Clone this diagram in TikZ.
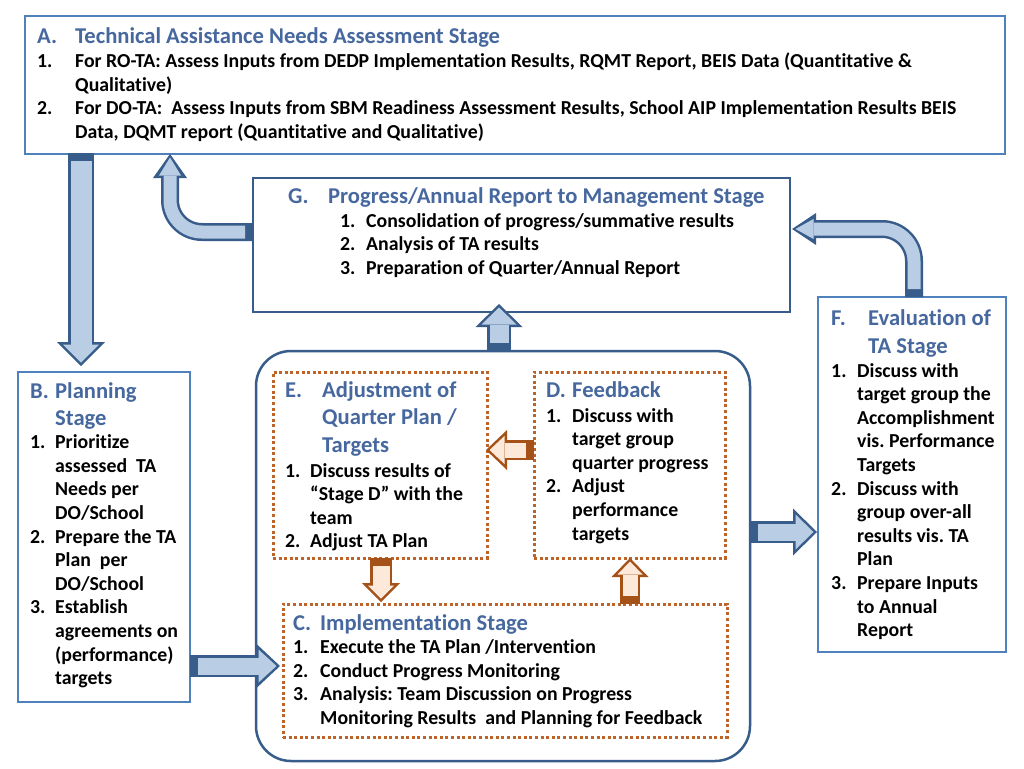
\documentclass[tikz,border=0pt]{standalone}
\usepackage{fontspec}
\setmainfont{Carlito}[Ligatures=NoCommon]
\usepackage{tikz}
\usetikzlibrary{arrows.meta}

\definecolor{ttlblue}{RGB}{70,104,158}
\definecolor{frameblue}{RGB}{79,129,189}
\definecolor{darkblue}{RGB}{56,93,138}
\definecolor{arrfill}{RGB}{185,205,229}
\definecolor{dotbrown}{RGB}{190,100,40}
\definecolor{brownline}{RGB}{165,82,25}
\definecolor{brownfill}{RGB}{253,233,217}

\frenchspacing
\newcommand{\ttl}[1]{\textcolor{ttlblue}{\fontsize{22.6}{23.6}\selectfont #1}}
\newcommand{\blockarrow}[6]{%
  \pgfmathsetmacro\bainner{#3-5}%
  \pgfmathsetmacro\baheadw{#4-12}%
  \pgfmathsetmacro\baheadl{#5-6}%
  \draw[color=#1, line width=#3pt, -{Triangle[width=#4pt, length=#5pt, line width=0pt]}] #6;
  \draw[color=#2, line width=\bainner pt, shorten <=8pt, shorten >=3.5pt,
        -{Triangle[width=\baheadw pt, length=\baheadl pt, line width=0pt]}] #6;}

\begin{document}
\begin{tikzpicture}[x=1pt, y=-1pt,
    stagebox/.style = {draw, line width=2.5pt, fill=white, inner sep=0pt, outer sep=0pt, anchor=north west},
    dotbox/.style = {stagebox, draw=dotbrown, line width=3pt, dash pattern={on 3pt off 2.6pt}},
    txt/.style = {anchor=base west, inner sep=0pt, font=\fontsize{19.8}{23.6}\selectfont\bfseries}]
    \useasboundingbox[fill=white] (0,0) rectangle (1024,768);

    \node[stagebox, draw=frameblue, minimum width=980pt, minimum height=138pt] (A) at (25,16) {};
    \node[stagebox, draw=darkblue, minimum width=537pt, minimum height=134pt] (G) at (253,178) {};
    \node[stagebox, draw=frameblue, minimum width=172pt, minimum height=330pt] (B) at (18,372) {};
    \node[stagebox, draw=frameblue, minimum width=188pt, minimum height=355pt] (F) at (818,297) {};
    \node[stagebox, draw=darkblue, rounded corners=35pt, minimum width=494pt, minimum height=410pt] (box) at (256,351) {};
    \node[dotbox, minimum width=214pt, minimum height=186pt] (E) at (273,372) {};
    \node[dotbox, minimum width=191pt, minimum height=186pt] (D) at (534,372) {};
    \node[dotbox, minimum width=444pt, minimum height=133pt] (C) at (283,604) {};

    \node[txt] (Atext) at (37,44) {\begin{tabular}[t]{@{}p{38pt}@{}l@{}}
        \ttl{A.} & \ttl{Technical Assistance Needs Assessment Stage}\\
        1. & For RO-TA: Assess Inputs from DEDP Implementation Results, RQMT Report, BEIS Data (Quantitative \&\\
           & Qualitative)\\
        2. & For DO-TA:~ Assess Inputs from SBM Readiness Assessment Results, School AIP Implementation Results BEIS\\
           & Data, DQMT report (Quantitative and Qualitative)
        \end{tabular}};
    \node[txt] (Gtitle) at (288,203) {\begin{tabular}[t]{@{}p{40pt}@{}l@{}}
        \ttl{G.} & \ttl{Progress/Annual Report to Management Stage}
        \end{tabular}};
    \node[txt] (Gtext) at (340,227) {\begin{tabular}[t]{@{}p{26pt}@{}l@{}}
        1. & Consolidation of progress/summative results\\
        2. & Analysis of TA results\\
        3. & Preparation of Quarter/Annual Report
        \end{tabular}};
    \node[txt] (Btext) at (30,398) {\begin{tabular}[t]{@{}p{25pt}@{}l@{}}
        \ttl{B.} & \ttl{Planning}\\[3.4pt]
           & \ttl{Stage}\\
        1. & Prioritize\\
           & assessed~ TA\\
           & Needs per\\
           & DO/School\\
        2. & Prepare the TA\\
           & Plan~ per\\
           & DO/School\\
        3. & Establish\\
           & agreements on\\
           & (performance)\\
           & targets
        \end{tabular}};
    \node[txt] (Ftitle) at (831,325) {\begin{tabular}[t]{@{}p{37pt}@{}l@{}}
        \ttl{F.} & \ttl{Evaluation of}\\[4.4pt]
           & \ttl{TA Stage}
        \end{tabular}};
    \node[txt] (Ftext) at (831,377) {\begin{tabular}[t]{@{}p{26pt}@{}l@{}}
        1. & Discuss with\\
           & target group the\\
           & Accomplishment\\
           & vis. Performance\\
           & Targets\\
        2. & Discuss with\\
           & group over-all\\
           & results vis. TA\\
           & Plan\\
        3. & Prepare Inputs\\
           & to Annual\\
           & Report
        \end{tabular}};
    \node[txt] (Etitle) at (285,397) {\begin{tabular}[t]{@{}p{37pt}@{}l@{}}
        \ttl{E.} & \ttl{Adjustment of}\\[4.2pt]
           & \ttl{Quarter Plan /}\\[3.6pt]
           & \ttl{Targets}
        \end{tabular}};
    \node[txt] (Etext) at (285,477) {\begin{tabular}[t]{@{}p{25pt}@{}l@{}}
        1. & Discuss results of\\
           & “Stage D” with the\\
           & team\\
        2. & Adjust TA Plan
        \end{tabular}};
    \node[txt] (Dtext) at (546,397) {\begin{tabular}[t]{@{}p{26pt}@{}l@{}}
        \ttl{D.} & \ttl{Feedback}\\[1.4pt]
        1. & Discuss with\\
           & target group\\
           & quarter progress\\
        2. & Adjust\\
           & performance\\
           & targets
        \end{tabular}};
    \node[txt] (Ctext) at (293,630) {\begin{tabular}[t]{@{}p{27pt}@{}l@{}}
        \ttl{C.} & \ttl{Implementation Stage}\\
        1. & Execute the TA Plan /Intervention\\
        2. & Conduct Progress Monitoring\\
        3. & Analysis: Team Discussion on Progress\\
           & Monitoring Results~ and Planning for Feedback
        \end{tabular}};

    % block arrows: line, fill, shaft, head width, head length, path
    \blockarrow{darkblue}{arrfill}{26}{48}{24}{([xshift=56pt, yshift=1pt]A.south west) -- ([xshift=63pt, yshift=6pt]B.north west)}
    \blockarrow{darkblue}{arrfill}{22}{45}{24}{([yshift=36pt]B.south east) -- ([xshift=-3pt, yshift=4.5pt]C.west)}
    \blockarrow{darkblue}{arrfill}{22}{47}{24}{([yshift=24pt]box.east) -- ([xshift=-1pt, yshift=-57.5pt]F.west)}
    \blockarrow{darkblue}{arrfill}{24}{47}{23}{([xshift=-4pt]box.north) -- ([xshift=-22.5pt, yshift=8pt]G.south)}
    \blockarrow{darkblue}{arrfill}{18}{34}{24}{([yshift=13pt]G.west) [rounded corners=32pt] -| ([xshift=145pt]A.south west)}
    \blockarrow{darkblue}{arrfill}{18}{32}{24}{([xshift=2pt]F.north) [rounded corners=32pt] |- ([xshift=2pt, yshift=16pt]G.east)}
    \blockarrow{brownline}{brownfill}{20}{40}{21}{([yshift=15pt]D.west) -- ([xshift=-1pt, yshift=15pt]E.east)}
    \blockarrow{brownline}{brownfill}{22}{38}{19}{([xshift=1pt]E.south) -- ([xshift=-124pt, yshift=2pt]C.north)}
    \blockarrow{brownline}{brownfill}{20}{37}{19}{([xshift=125pt]C.north) -- ([xshift=0.5pt]D.south)}

\end{tikzpicture}
\end{document}
